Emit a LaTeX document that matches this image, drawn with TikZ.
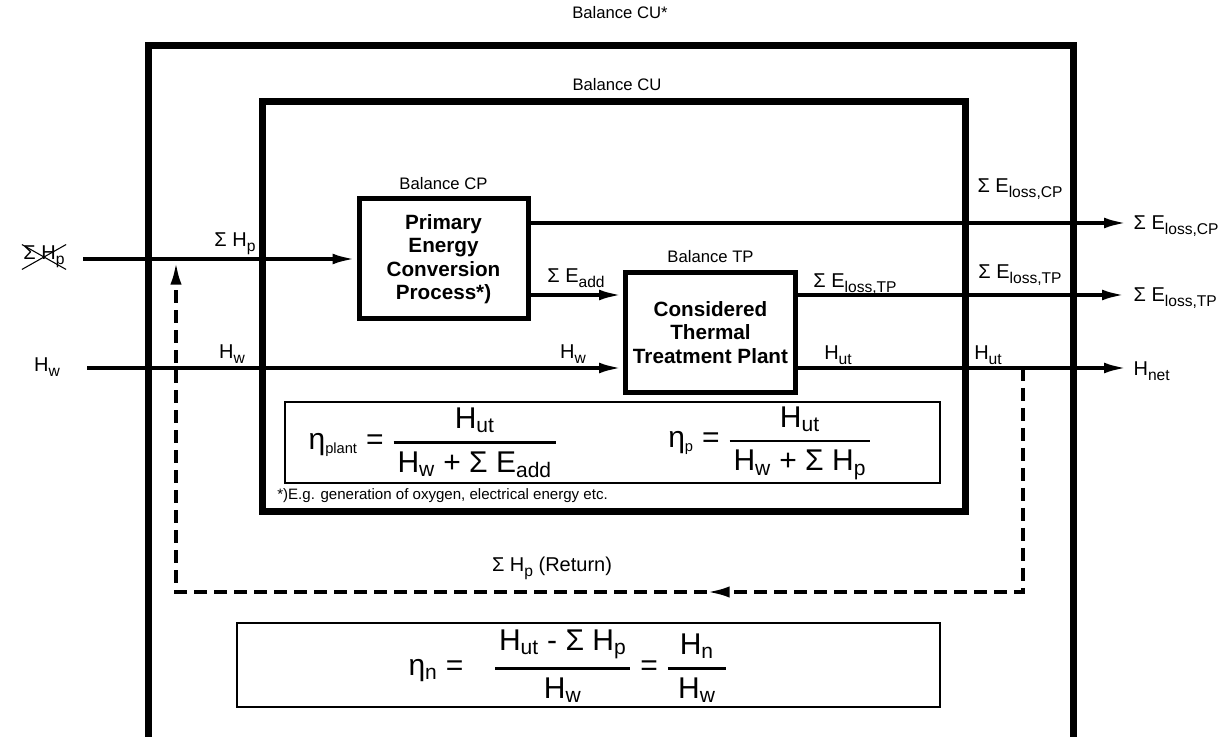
\documentclass[tikz,border=0pt]{standalone}
\usepackage{fontspec}
\setmainfont{Liberation Sans}
\usepackage{amsmath}
\usetikzlibrary{arrows.meta,positioning}
\newcommand{\sbs}[1]{\raisebox{-0.45ex}{\scalebox{0.78}{#1}}}
\newcommand{\fsbs}[1]{\textsubscript{#1}}
\newcommand{\tsbs}[1]{\textsubscript{\fontsize{11}{12}\selectfont #1}}
\newcommand{\efrac}[2]{$\genfrac{}{}{2pt}{0}{\text{\kern3pt#1\kern3pt}}{\text{\kern3pt#2\kern3pt}}$}

\begin{document}
\begin{tikzpicture}[x=0.75pt,y=-0.75pt,
  frame/.style={line width=5.25pt},
  proc/.style={draw,line width=3.75pt,align=center,inner sep=0pt,font=\bfseries\fontsize{15.5}{17.5}\selectfont},
  flow/.style={line width=3pt,-{Latex[length=18pt,width=8pt]}},
  ret/.style={line width=2.7pt,dash pattern=on 10pt off 5pt,-{Latex[length=17pt,width=8.5pt]}},
  lbl/.style={inner sep=1pt,font=\fontsize{15}{17}\selectfont},
  bal/.style={inner sep=1pt,font=\fontsize{12.5}{14}\selectfont},
  eqbox/.style={draw,line width=2pt},
  eq/.style={inner sep=0pt,font=\fontsize{22.5}{26}\selectfont}]
\useasboundingbox (0,0) rectangle (1222,737);

% balance boundaries
\draw[frame] (148,737) -- (148,46) -- (1073,46) -- (1073,737);
\draw[frame] (262,102) rectangle (965,512);
\node[bal] (cus) at (620,13) {Balance CU*};
\node[bal] (cu) at (617,85) {Balance CU};

% processes
\node[proc,minimum width=126.75pt,minimum height=90pt] (cp) at (443.5,259)
  {Primary\\Energy\\Conversion\\Process*)};
\node[proc,minimum width=127.5pt,minimum height=90pt] (tp) at (710.5,332.5)
  {Considered\\Thermal\\Treatment Plant};
\node[bal,above=4pt of cp] (balcp) {Balance CP};
\node[bal,above=4pt of tp] (baltp) {Balance TP};

% free ends
\coordinate (inp) at (83,259);
\coordinate (inw) at (87,368);
\coordinate (add) at (600,295);
\coordinate (outcp) at (1128,223);
\coordinate (outtp) at (1126,295);
\coordinate (outut) at (1128,368);

\draw[flow] (inp) -- (inp -| cp.west);
\draw[flow] (inw) -- (inw -| tp.west);
\draw[flow] (cp.east |- add) -- (tp.west |- add);
\draw[flow] (cp.east |- outcp) -- (outcp);
\draw[flow] (tp.east |- outtp) -- (outtp);
\draw[flow] (tp.east |- outut) -- (outut);

% return
\coordinate (r1) at (1023,368);
\coordinate (r2) at (1023,592);
\coordinate (rm) at (707,592);
\coordinate (r3) at (176,592);
\coordinate (r4) at (176,262);
\draw[ret] (r1) -- (r2) -- (rm);
\draw[ret] (rm) -- (r3) -- (r4);

% flow labels
\node[lbl] (xhp) at (44,257) {Σ H\sbs{p}};
\draw[line width=0.8pt] (xhp.south west) -- (xhp.north east)
  (xhp.north west) -- (xhp.south east);
\node[lbl] (hp) at (235,244) {Σ H\sbs{p}};
\node[lbl] (hw0) at (47,367) {H\sbs{w}};
\node[lbl] (hw1) at (232,354) {H\sbs{w}};
\node[lbl] (hw2) at (573,354) {H\sbs{w}};
\node[lbl] (eadd) at (576,278) {Σ E\sbs{add}};
\node[lbl] (lcp1) at (1020,189) {Σ E\sbs{loss,CP}};
\node[lbl,anchor=west] (lcp2) at (1132,226) {Σ E\sbs{loss,CP}};
\node[lbl] (ltp1) at (855,284) {Σ E\sbs{loss,TP}};
\node[lbl] (ltp2) at (1020,275) {Σ E\sbs{loss,TP}};
\node[lbl,anchor=west] (ltp3) at (1132,298) {Σ E\sbs{loss,TP}};
\node[lbl] (hut1) at (838,355) {H\sbs{ut}};
\node[lbl] (hut2) at (988,355) {H\sbs{ut}};
\node[lbl,anchor=west] (hnet) at (1132,371) {H\sbs{net}};
\node[lbl] (ret) at (552,568) {Σ H\sbs{p} (Return)};

% efficiencies
\draw[eqbox] (285,402) rectangle (940,483);
\node[eq] (etaplant) at (433,443) {η\tsbs{plant} = \efrac{H\fsbs{ut}}{H\fsbs{w} + Σ E\fsbs{add}}};
\node[eq] (etap) at (770,443) {η\tsbs{p} = \efrac{H\fsbs{ut}}{H\fsbs{w} + Σ H\fsbs{p}}};
\node[anchor=west,inner sep=0pt,font=\fontsize{11.3}{13}\selectfont] (note) at (277,496)
  {*)E.g. generation of oxygen, electrical energy etc.};
\draw[eqbox] (237,623) rectangle (940,707);
\node[eq] (etan) at (568,666)
  {η\fsbs{n} =\quad\efrac{H\fsbs{ut} - Σ H\fsbs{p}}{H\fsbs{w}} = \efrac{\kern6pt H\fsbs{n}\kern6pt}{H\fsbs{w}}};
\end{tikzpicture}
\end{document}
